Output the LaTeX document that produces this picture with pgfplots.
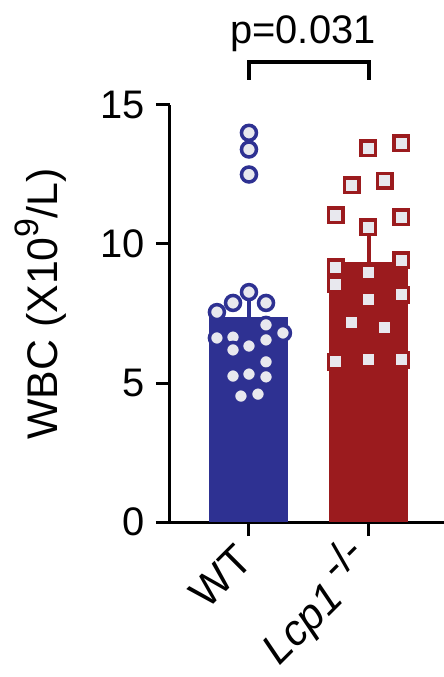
\documentclass[border=0pt]{standalone}
\usepackage{fontspec}
\setmainfont{Liberation Sans}
\usepackage{pgfplots}
\pgfplotsset{compat=1.18}
\definecolor{wtblue}{RGB}{46,49,146}
\definecolor{kored}{RGB}{155,27,30}
\definecolor{ptfill}{RGB}{232,232,238}
\newcommand{\bigfont}{\fontsize{40}{48}\selectfont}
\newcommand{\xfont}{\fontsize{43}{50}\selectfont}
\begin{document}
\begin{tikzpicture}
\begin{axis}[
  scale only axis, width=274bp, height=417bp,
  xmin=-0.658, xmax=1.625, ymin=0, ymax=15,
  axis x line*=bottom, axis y line*=left,
  axis line style={line width=3bp, black},
  xtick={0,1},
  xticklabels={WT, {\textit{Lcp1}\,\raisebox{0.42em}{-/-}}},
  ytick={0,5,10,15},
  tick align=outside, major tick length=14bp,
  tick style={line width=3bp, black},
  ticklabel style={font=\bigfont},
  /pgf/number format/assume math mode=true,
  yticklabel style={xshift=-8bp},
  xticklabel style={font=\xfont, yshift=-14bp, xshift=-2bp, rotate=45, anchor=east},
  clip=false,
]
% bars (means)
\addplot[ybar, bar width=79bp, fill=wtblue, draw=none] coordinates {(0,7.37)};
\addplot[ybar, bar width=79bp, fill=kored, draw=none] coordinates {(1,9.35)};
% error bars (SEM, upward)
\addplot[draw=none, mark=none, error bars/.cd, y dir=plus, y explicit,
  error bar style={line width=4bp, wtblue},
  error mark options={line width=4bp, wtblue, mark size=16bp}]
  coordinates {(0,7.37) +- (0,0.52)};
\addplot[draw=none, mark=none, error bars/.cd, y dir=plus, y explicit,
  error bar style={line width=4bp, kored},
  error mark options={line width=4bp, kored, mark size=21bp}]
  coordinates {(1,9.35) +- (0,0.59)};
% individual points
\addplot[only marks, mark=*, mark size=7.5bp,
  mark options={draw=wtblue, fill=ptfill, line width=3.5bp}] coordinates {
  (0,14.0) (0,13.4) (0,12.5) (0,8.27) (-0.133,7.88) (0.142,7.88) (-0.267,7.55)
  (-0.267,6.62) (-0.133,6.65) (0.142,7.09) (0.283,6.80) (0.142,6.55)
  (-0.133,6.19) (0,6.33) (0.142,5.76) (-0.133,5.25) (0,5.32) (0.142,5.22)
  (-0.067,4.53) (0.075,4.60)};
\addplot[only marks, mark=square*, mark size=7.25bp,
  mark options={draw=kored, fill=ptfill, line width=3.5bp}] coordinates {
  (0.992,13.45) (1.267,13.63) (0.858,12.12) (1.133,12.27) (0.725,11.04)
  (0.992,10.61) (1.267,10.97) (0.725,9.17) (0.992,8.99) (1.267,9.42)
  (0.725,8.56) (0.992,8.02) (1.267,8.17) (0.858,7.16) (1.133,7.01)
  (0.725,5.76) (0.992,5.86) (1.267,5.83)};
% significance bracket
\addplot[black, line width=3.5bp, mark=none] coordinates {(0,15.9) (0,16.55) (1,16.55) (1,15.9)};
\node[anchor=base, font=\bigfont, inner sep=0pt] at (axis cs:0.45,17.23) {p=0.031};
\node[rotate=90, anchor=base, font=\fontsize{43}{50}\selectfont, inner sep=0pt] at (axis cs:-1.592,7.84) {WBC (X10\raisebox{0.45em}{\fontsize{34}{40}\selectfont 9}/L)};
\end{axis}
\pgfresetboundingbox
\path[use as bounding box] (-170bp,-155bp) rectangle (274bp,522bp);
\end{tikzpicture}
\end{document}
